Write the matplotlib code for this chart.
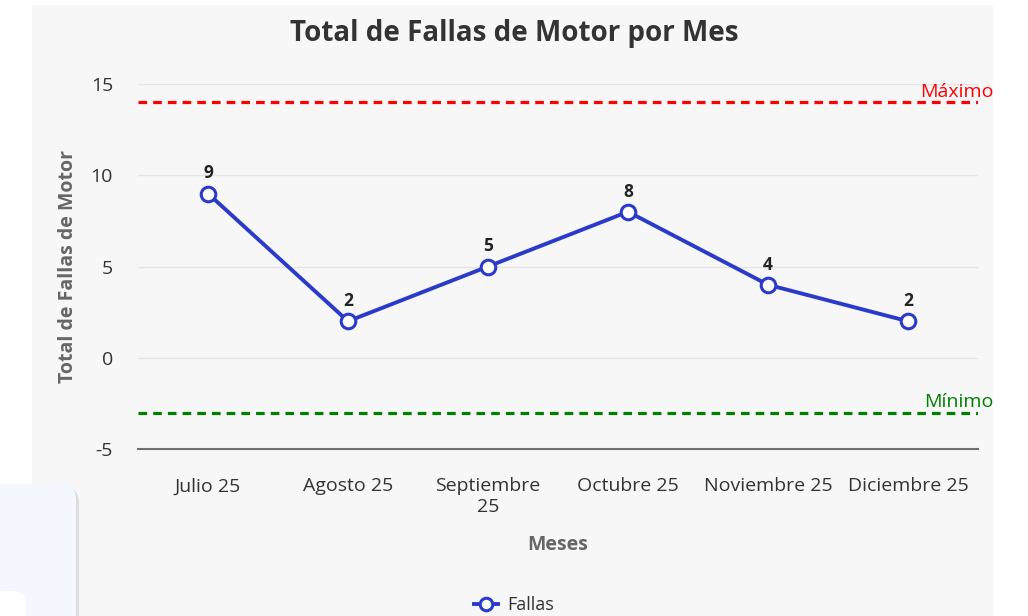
import matplotlib.pyplot as plt
from matplotlib.patches import Rectangle, FancyBboxPatch
from matplotlib.lines import Line2D

plt.rcParams['font.family'] = ['Open Sans', 'DejaVu Sans']
plt.rcParams['axes.unicode_minus'] = False

meses = ['Julio 25', 'Agosto 25', 'Septiembre\n25', 'Octubre 25', 'Noviembre 25', 'Diciembre 25']
fallas = [9, 2, 5, 8, 4, 2]
maximo = 14
minimo = -3
y_ticks = [-5, 0, 5, 10, 15]

W, H = 1028, 616
fig = plt.figure(figsize=(W / 100, H / 100), dpi=100)
fig.patch.set_facecolor('white')

# page background (pixel coords)
bg = fig.add_axes([0, 0, 1, 1], zorder=-1)
bg.set_xlim(0, W)
bg.set_ylim(H, 0)
bg.axis('off')
bg.add_patch(Rectangle((32, 5), 961, 620, color='#f7f7f7', lw=0))
# card at bottom-left with shadow
bg.add_patch(FancyBboxPatch((-30, 487), 109, 160, boxstyle='round,pad=0,rounding_size=16',
                            color='#d2d2d2', lw=0, alpha=0.7))
bg.add_patch(FancyBboxPatch((-30, 484), 106, 160, boxstyle='round,pad=0,rounding_size=16',
                            color='#f5f7fe', lw=0))
bg.add_patch(FancyBboxPatch((-30, 591), 56, 60, boxstyle='round,pad=0,rounding_size=14',
                            color='white', lw=0))

ax = fig.add_axes([138 / W, 1 - 449 / H, 840 / W, 365 / H])
ax.set_facecolor('none')
x = list(range(len(meses)))
ax.set_xlim(-0.5, len(meses) - 0.5)
ax.set_ylim(-5, 15)

for s in ['top', 'right', 'left']:
    ax.spines[s].set_visible(False)
ax.spines['bottom'].set_color('#707070')
ax.spines['bottom'].set_linewidth(1.5)

ax.set_yticks(y_ticks)
for t in y_ticks[1:]:
    ax.axhline(t, color='#e4e4e4', lw=1, zorder=0)

ax.set_xticks(x)
ax.set_xticklabels(meses, linespacing=1.2)
ax.tick_params(axis='x', length=0, pad=20.5, labelsize=14, labelcolor='#333333')
ax.tick_params(axis='y', length=0, pad=18, labelsize=14, labelcolor='#333333')

line_color = '#2a3bcc'
ax.axhline(maximo, color='#ff0000', lw=2.3, ls=(0, (2.7, 1.9)), zorder=2)
ax.axhline(minimo, color='#008000', lw=2.3, ls=(0, (2.7, 1.9)), zorder=2)
ax.annotate('Máximo', xy=(1, maximo), xycoords=('axes fraction', 'data'),
            xytext=(11, 1), textcoords='offset points', ha='right', va='bottom',
            color='#ff0000', fontsize=14)
ax.annotate('Mínimo', xy=(1, minimo), xycoords=('axes fraction', 'data'),
            xytext=(11, 1), textcoords='offset points', ha='right', va='bottom',
            color='#008000', fontsize=14)

ax.plot(x, fallas, color=line_color, lw=2.8, marker='o', markersize=10.5,
        markerfacecolor='white', markeredgecolor=line_color, markeredgewidth=2.2,
        zorder=4, clip_on=False)
for i, v in enumerate(fallas):
    ax.annotate(str(v), (i, v), xytext=(0, 8), textcoords='offset points',
                ha='center', va='bottom', fontweight='bold', fontsize=12.5, color='#222222')

ax.set_title('Total de Fallas de Motor por Mes', fontsize=20, fontweight='bold',
             color='#333333', pad=0, x=(514 - 138) / 840, y=(449 - 34) / 365)
ax.title.set_va('center')

ax.set_ylabel('Total de Fallas de Motor', fontsize=14, fontweight='bold', color='#666666')
ax.yaxis.set_label_coords(-70 / 840, 0.5)
ax.yaxis.label.set_va('center')
ax.set_xlabel('Meses', fontsize=14, fontweight='bold', color='#666666')
ax.xaxis.set_label_coords(0.5, -(545 - 449) / 365)
ax.xaxis.label.set_va('center')

handle = Line2D([], [], color=line_color, lw=2.8, marker='o', markersize=9,
                markerfacecolor='white', markeredgecolor=line_color, markeredgewidth=2.2)
fig.legend([handle], ['Fallas'], loc='center', bbox_to_anchor=(514 / W, 1 - 605 / H),
           frameon=False, fontsize=13, handlelength=1.3, handletextpad=0.5,
           labelcolor='#333333')

fig.savefig('out.png', dpi=100)
